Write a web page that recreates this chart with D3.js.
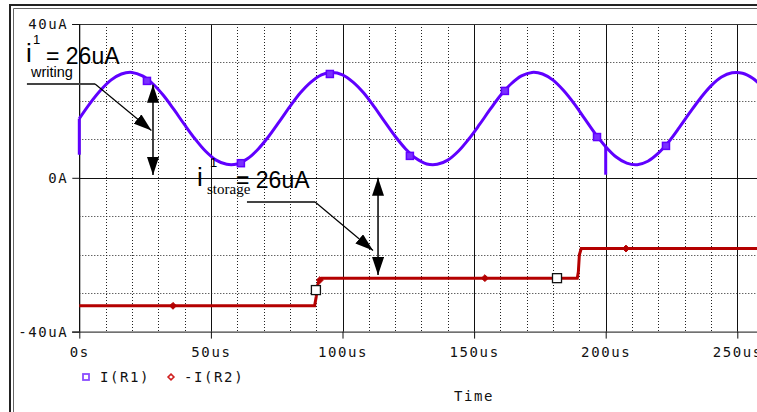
<!DOCTYPE html>
<html><head><meta charset="utf-8">
<script src="https://cdn.jsdelivr.net/npm/d3@7"></script>
<style>html,body{margin:0;padding:0;background:#fff;}svg{display:block;}</style>
</head><body><svg id="chart" width="757" height="412"></svg>
<script>
// ---------- data ----------
const timeTicks = [0, 50, 100, 150, 200, 250];
const timeTickLabels = ["0s", "50us", "100us", "150us", "200us", "250us"];
const currentTicks = [40, 0, -40];
const currentTickLabels = ["40uA", "0A", "-40uA"];
const seriesNames = ["I(R1)", "-I(R2)"];

// I(R1): [time us, current uA]
const r1Start = [[0, 6.0], [0, 15.4]];
const r1 = [
  [0,15.4],[4,19.3],[8,22.7],[12,25.4],[16,27.0],[20,27.4],[24,26.5],[28,24.4],[32,21.4],[36,17.7],
  [40,13.8],[44,10.1],[48,6.9],[52,4.6],[56,3.5],[60,3.6],[64,5.0],[68,7.5],[72,10.8],[76,14.6],
  [80,18.5],[84,22.1],[88,24.9],[92,26.8],[96,27.4],[100,26.8],[104,24.9],[108,22.1],[112,18.5],[116,14.6],
  [120,10.8],[124,7.5],[128,5.0],[132,3.6],[136,3.5],[140,4.6],[144,6.9],[148,10.1],[152,13.8],[156,17.7],
  [160,21.4],[164,24.4],[168,26.5],[172,27.4],[176,27.0],[180,25.4],[184,22.7],[188,19.3],[192,15.4],[196,11.5],
  [200,8.1],[204,5.4],[208,3.8],[212,3.4],[216,4.3],[220,6.4],[224,9.4],[228,13.1],[232,17.0],[236,20.7],
  [240,23.9],[244,26.2],[248,27.3],[252,27.2],[256,25.8],[260,23.3]
];
const r1Spike = [[200, 8.1], [200, 0.8]];
const r1Markers = [[25.7,25.2],[61.4,3.8],[95.2,27.0],[125.6,5.7],[161.7,22.6],[196.7,10.6],[222.9,8.3]];

// -I(R2)
const r2 = [
  [0,-33.3],[89.4,-33.3],[90.0,-31.0],[90.5,-28.0],[91.2,-26.6],[92.0,-26.1],
  [189.2,-26.1],[189.6,-24.5],[190.0,-20.0],[190.7,-18.4],[260,-18.4]
];
const r2Markers = [[35.6,-33.3],[91.4,-26.6],[154.1,-26.1],[207.7,-18.4]];
const cursorMarks = [[89.9,-29.2],[181.5,-26.1]];

// annotations in data coordinates
const arrowWriting = {t: 28.0, from: 24.2, to: 0.7};
const arrowStorage = {t: 113.5, from: 0.0, to: -25.3};
const leaderWriting = [[-19.9, 24.4], [6.0, 24.4], [27.4, 12.3]];
const leaderStorage = [[63.7, -6.3], [89.6, -6.3], [111.6, -18.9]];

// ---------- layout ----------
const svg = d3.select("#chart");
const x = d3.scaleLinear().domain([0, 260]).range([79.3, 79.3 + 260 * 2.632]);
const y = d3.scaleLinear().domain([-40, 40]).range([331.6, 24]);
const monoFont = "'DejaVu Sans Mono', monospace";

// frame
svg.append("path").attr("d", "M10,412V5H757").attr("fill", "none").attr("stroke", "#222").attr("stroke-width", 2);
svg.append("path").attr("d", "M13.5,412V8.5H757").attr("fill", "none").attr("stroke", "#666").attr("stroke-width", 1);

// grid
const grid = svg.append("g");
d3.range(0, 261, 10).forEach(t => {
  const major = t % 50 === 0;
  grid.append("line")
    .attr("x1", Math.round(x(t)) + 0.5).attr("x2", Math.round(x(t)) + 0.5)
    .attr("y1", y(40)).attr("y2", y(-40))
    .attr("stroke", major ? "#111" : "#222").attr("stroke-width", 1)
    .attr("stroke-dasharray", major ? null : "1,2");
});
d3.range(-30, 31, 10).forEach(v => {
  const major = v === 0;
  grid.append("line")
    .attr("x1", x(0)).attr("x2", 757)
    .attr("y1", Math.round(y(v)) + 0.5).attr("y2", Math.round(y(v)) + 0.5)
    .attr("stroke", major ? "#111" : "#222").attr("stroke-width", 1)
    .attr("stroke-dasharray", major ? null : "1,2");
});
// top border of plot
grid.append("line").attr("x1", 72).attr("x2", 757).attr("y1", Math.round(y(40)) + 0.5).attr("y2", Math.round(y(40)) + 0.5)
  .attr("stroke", "#333").attr("stroke-width", 1);

// axes
const xAxis = d3.axisBottom(x).tickValues(timeTicks).tickSize(7).tickPadding(8)
  .tickFormat((d, i) => timeTickLabels[i]);
const gx = svg.append("g").attr("transform", `translate(0,${y(-40)})`).call(xAxis);
gx.select(".domain").attr("d", `M72,0.5H757`).attr("stroke", "#111");
gx.selectAll(".tick line").attr("stroke", "#111");
gx.selectAll(".tick text").attr("font-family", monoFont).attr("font-size", 14)
  .attr("letter-spacing", "1.6px").attr("fill", "#111").attr("dy", "0.71em");

const yAxis = d3.axisLeft(y).tickValues(currentTicks).tickSize(7).tickPadding(4)
  .tickFormat((d, i) => currentTickLabels[i]);
const gy = svg.append("g").attr("transform", `translate(${x(0)},0)`).call(yAxis);
gy.select(".domain").attr("stroke", "#111").attr("d", `M0.5,${y(40)}V${y(-40)}`);
gy.selectAll(".tick line").attr("stroke", "#111");
gy.selectAll(".tick text").attr("font-family", monoFont).attr("font-size", 14)
  .attr("letter-spacing", "1.6px").attr("fill", "#111");

// axis title
svg.append("text").attr("x", 474).attr("y", 401).attr("text-anchor", "middle")
  .attr("font-family", monoFont).attr("font-size", 14).attr("letter-spacing", "1.6px")
  .attr("fill", "#111").text("Time");

// legend
const blue = "#6000ff", red = "#b40000";
const legendBlue = "#8a4dff";
svg.append("rect").attr("x", 83).attr("y", 374).attr("width", 6).attr("height", 6)
  .attr("fill", "#fff").attr("stroke", legendBlue).attr("stroke-width", 1.8);
svg.append("text").attr("x", 100).attr("y", 382).attr("font-family", monoFont).attr("font-size", 14)
  .attr("letter-spacing", "1.6px").attr("fill", "#111").text(seriesNames[0]);
svg.append("path").attr("d", d3.symbol(d3.symbolDiamond2, 22)()).attr("transform", "translate(171,377)")
  .attr("fill", "#fff").attr("stroke", "#d02020").attr("stroke-width", 1.6);
svg.append("text").attr("x", 184).attr("y", 382).attr("font-family", monoFont).attr("font-size", 14)
  .attr("letter-spacing", "1.6px").attr("fill", "#111").text(seriesNames[1]);

// series
const line = d3.line().x(d => x(d[0])).y(d => y(d[1]));
const smooth = d3.line().x(d => x(d[0])).y(d => y(d[1])).curve(d3.curveCatmullRom.alpha(0.5));
const series = svg.append("g");
series.append("path").datum(r2).attr("d", line).attr("fill", "none").attr("stroke", red).attr("stroke-width", 3);
series.selectAll(".r2m").data(r2Markers).join("path")
  .attr("d", d3.symbol(d3.symbolDiamond2, 30)())
  .attr("transform", d => `translate(${x(d[0])},${y(d[1])})`).attr("fill", red).attr("stroke", red).attr("stroke-width", 1);
series.selectAll(".cur").data(cursorMarks).join("rect")
  .attr("x", d => x(d[0]) - 4.5).attr("y", d => y(d[1]) - 4.5).attr("width", 9).attr("height", 9)
  .attr("fill", "#fff").attr("stroke", "#111").attr("stroke-width", 1.3);

series.append("path").datum(r1).attr("d", smooth).attr("fill", "none").attr("stroke", blue)
  .attr("stroke-width", 3).attr("stroke-linejoin", "round");
series.append("path").datum(r1Start).attr("d", line).attr("fill", "none").attr("stroke", blue).attr("stroke-width", 3);
series.append("path").datum(r1Spike).attr("d", line).attr("fill", "none").attr("stroke", blue).attr("stroke-width", 3);
series.selectAll(".r1m").data(r1Markers).join("rect")
  .attr("x", d => x(d[0]) - 3.5).attr("y", d => y(d[1]) - 3.5).attr("width", 7).attr("height", 7)
  .attr("fill", "#7a30ff").attr("stroke", blue).attr("stroke-width", 1.5);

// annotations
const defs = svg.append("defs");
defs.append("marker").attr("id", "ah").attr("viewBox", "0 0 18 12").attr("refX", 18).attr("refY", 6)
  .attr("markerWidth", 18).attr("markerHeight", 12).attr("markerUnits", "userSpaceOnUse")
  .attr("orient", "auto-start-reverse")
  .append("path").attr("d", "M0,0L18,6L0,12Z").attr("fill", "#000");

const ann = svg.append("g");
[arrowWriting, arrowStorage].forEach(a => {
  ann.append("line").attr("x1", x(a.t)).attr("x2", x(a.t)).attr("y1", y(a.from)).attr("y2", y(a.to))
    .attr("stroke", "#000").attr("stroke-width", 1.5)
    .attr("marker-start", "url(#ah)").attr("marker-end", "url(#ah)");
});
[leaderWriting, leaderStorage].forEach(l => {
  ann.append("line").attr("x1", x(l[0][0])).attr("x2", x(l[1][0])).attr("y1", y(l[0][1])).attr("y2", y(l[1][1]))
    .attr("stroke", "#444").attr("stroke-width", 2);
  ann.append("line").attr("x1", x(l[1][0])).attr("x2", x(l[2][0])).attr("y1", y(l[1][1])).attr("y2", y(l[2][1]))
    .attr("stroke", "#000").attr("stroke-width", 1.2).attr("marker-end", "url(#ah)");
});

const sans = "'Liberation Sans', Arial, sans-serif";
const serif = "'Liberation Serif', 'Times New Roman', serif";
function label(px, py, txt, size, fam) {
  ann.append("text").attr("x", px).attr("y", py).attr("font-family", fam).attr("font-size", size)
    .attr("fill", "#000").text(txt);
}
// writing label
label(26, 62, "i", 26, sans);
label(33, 44, "1", 13, sans);
label(46, 64, "= 26uA", 23, sans);
label(31, 77, "writing", 14.5, sans);
// storage label
label(197, 186, "i", 26, sans);
label(210, 167, "1", 13, sans);
label(236, 188, "= 26uA", 23, sans);
label(207, 194, "storage", 15, serif);
</script></body></html>
